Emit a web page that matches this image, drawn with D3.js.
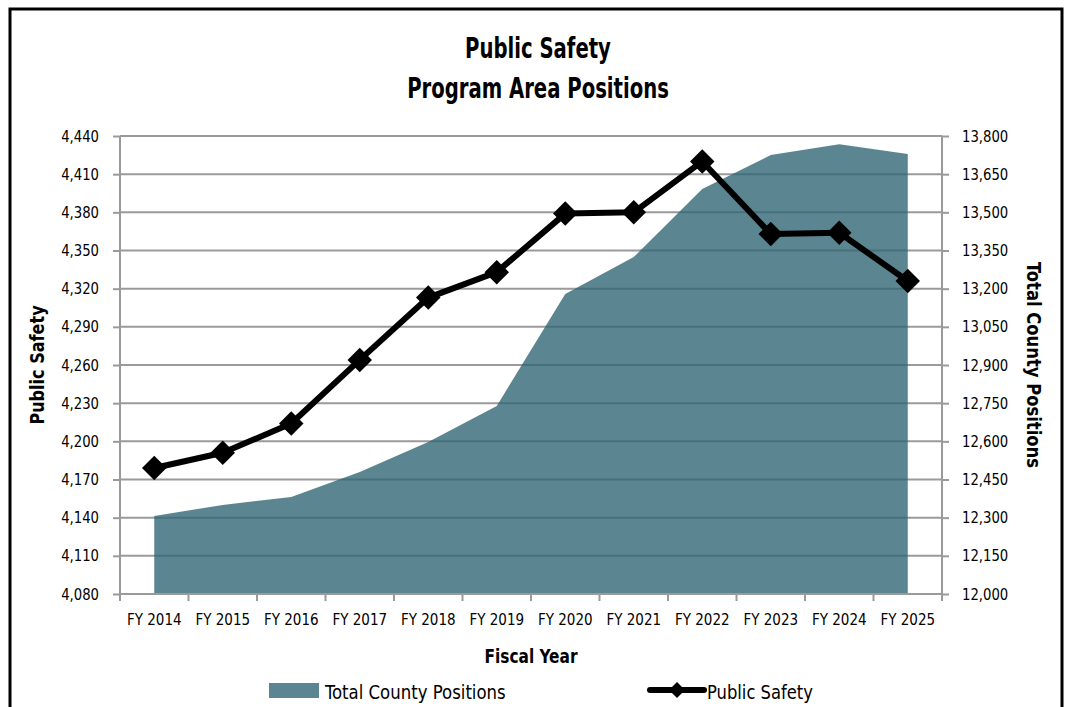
<!DOCTYPE html>
<html>
<head>
<meta charset="utf-8">
<script src="https://cdn.jsdelivr.net/npm/d3@7"></script>
<style>
  body { margin: 0; background: #fff; }
  svg text { font-family: "DejaVu Sans Condensed", "Liberation Sans Narrow", sans-serif; fill: #000; }
  .title { font-size: 28px; font-weight: bold; }
  .y.axis .tick text { font-size: 16px; }
  .x.axis .tick text { font-size: 15px; }
  .label { font-size: 19px; font-weight: bold; }
  .legend { font-size: 20px; }
</style>
</head>
<body>
<svg id="chartContainer"></svg>
<script>
// data
const years = ['FY 2014', 'FY 2015', 'FY 2016', 'FY 2017', 'FY 2018', 'FY 2019',
  'FY 2020', 'FY 2021', 'FY 2022', 'FY 2023', 'FY 2024', 'FY 2025'];
const publicSafety = [4179, 4191, 4214, 4264, 4313, 4333, 4379, 4380, 4420, 4363, 4364, 4326];
const countyTotal = [12307, 12350, 12381, 12479, 12597, 12739, 13179, 13324, 13592, 13725, 13768, 13729];
const leftTicks = [4080, 4110, 4140, 4170, 4200, 4230, 4260, 4290, 4320, 4350, 4380, 4410, 4440];
const rightTicks = [12000, 12150, 12300, 12450, 12600, 12750, 12900, 13050, 13200, 13350, 13500, 13650, 13800];

const W = 1068, H = 707;
const margin = { top: 136, right: 126, bottom: 113, left: 120 };
const width = W - margin.left - margin.right;
const height = H - margin.top - margin.bottom;

const svg = d3.select('#chartContainer')
  .attr('width', W)
  .attr('height', H);

// text squeezed sideways to mimic the condensed face of the original
const addText = (cls, x, y, sx, str, rot = 0, anchor = 'middle') =>
  svg.append('text').attr('class', cls)
    .attr('transform', `translate(${x},${y}) rotate(${rot}) scale(${sx},1)`)
    .attr('text-anchor', anchor)
    .text(str);

// outer frame
svg.append('rect')
  .attr('x', 10).attr('y', 9)
  .attr('width', 1052).attr('height', 710)
  .attr('fill', 'none')
  .attr('stroke', '#000')
  .attr('stroke-width', 3);

addText('title', 538, 58, 0.78, 'Public Safety');
addText('title', 538, 98, 0.78, 'Program Area Positions');

const chart = svg.append('g')
  .attr('transform', `translate(${margin.left},${margin.top})`);

const xScale = d3.scaleBand()
  .domain(years)
  .range([0, width]);
const xc = d => xScale(d) + xScale.bandwidth() / 2;

const yLeft = d3.scaleLinear().domain([4080, 4440]).range([height, 0]);
const yRight = d3.scaleLinear().domain([12000, 13800]).range([height, 0]);

// grid lines
chart.selectAll('.horizontalGrid')
  .data(leftTicks).enter()
  .append('line')
  .attr('class', 'horizontalGrid')
  .attr('x1', 0).attr('x2', width)
  .attr('y1', d => yLeft(d)).attr('y2', d => yLeft(d))
  .attr('stroke', '#9a9a9a')
  .attr('stroke-width', 2);

// area for total county positions (right axis)
const area = d3.area()
  .x((d, i) => xc(years[i]))
  .y0(height)
  .y1(d => yRight(d));

chart.append('path')
  .datum(countyTotal)
  .attr('d', area)
  .attr('fill', '#2f6474')
  .attr('fill-opacity', 0.79);

// axes
const styleAxis = g => {
  g.select('.domain').attr('stroke', '#9a9a9a').attr('stroke-width', 2);
  g.selectAll('.tick line').attr('stroke', '#9a9a9a').attr('stroke-width', 2);
};

chart.append('g')
  .attr('class', 'y axis')
  .call(d3.axisLeft(yLeft).tickValues(leftTicks).tickSize(7).tickPadding(13)
    .tickFormat(d3.format(',')))
  .call(styleAxis)
  .call(g => g.select('.domain').attr('d', `M0,${height}V0`))
  .call(g => g.selectAll('.tick text').attr('x', -21 / 0.92).attr('transform', 'scale(0.92,1)'));

chart.append('g')
  .attr('class', 'y axis')
  .attr('transform', `translate(${width},0)`)
  .call(d3.axisRight(yRight).tickValues(rightTicks).tickSize(7).tickPadding(13)
    .tickFormat(d3.format(',')))
  .call(styleAxis)
  .call(g => g.select('.domain').attr('d', `M0,${height}V0`))
  .call(g => g.selectAll('.tick text').attr('x', 20 / 0.92).attr('transform', 'scale(0.92,1)'));

const xAxis = chart.append('g')
  .attr('class', 'x axis')
  .attr('transform', `translate(0,${height})`)
  .call(d3.axisBottom(xScale).tickSize(0).tickPadding(20))
  .call(styleAxis)
  .call(g => g.select('.domain').attr('d', `M0,0H${width}`));

// boundary ticks between categories
xAxis.selectAll('.sep')
  .data(d3.range(years.length + 1)).enter()
  .append('line')
  .attr('x1', i => i * xScale.bandwidth())
  .attr('x2', i => i * xScale.bandwidth())
  .attr('y1', 0).attr('y2', 7)
  .attr('stroke', '#9a9a9a')
  .attr('stroke-width', 2);

// public safety line
const line = d3.line()
  .x((d, i) => xc(years[i]))
  .y(d => yLeft(d));

chart.append('path')
  .datum(publicSafety)
  .attr('d', line)
  .attr('fill', 'none')
  .attr('stroke', '#000')
  .attr('stroke-width', 6)
  .attr('stroke-linejoin', 'round');

const diamond = d3.symbol().type(d3.symbolSquare).size(300);
chart.selectAll('.marker')
  .data(publicSafety).enter()
  .append('path')
  .attr('class', 'marker')
  .attr('d', diamond)
  .attr('transform', (d, i) => `translate(${xc(years[i])},${yLeft(d)}) rotate(45)`)
  .attr('fill', '#000');

// axis titles
addText('label', 44, margin.top + height / 2, 0.94, 'Public Safety', -90);
addText('label', 1027, margin.top + height / 2, 0.96, 'Total County Positions', 90);
addText('label', margin.left + width / 2, 663, 0.9, 'Fiscal Year');

// legend
svg.append('rect')
  .attr('x', 269).attr('y', 683)
  .attr('width', 50).attr('height', 15)
  .attr('fill', '#2f6474')
  .attr('fill-opacity', 0.79);
addText('legend', 325, 699, 0.92, 'Total County Positions', 0, 'start');

svg.append('line')
  .attr('x1', 650).attr('x2', 704)
  .attr('y1', 690).attr('y2', 690)
  .attr('stroke', '#000')
  .attr('stroke-width', 6)
  .attr('stroke-linecap', 'round');
svg.append('path')
  .attr('d', d3.symbol().type(d3.symbolSquare).size(130))
  .attr('transform', 'translate(677,690) rotate(45)')
  .attr('fill', '#000');
addText('legend', 707, 699, 0.91, 'Public Safety', 0, 'start');
</script>
</body>
</html>
